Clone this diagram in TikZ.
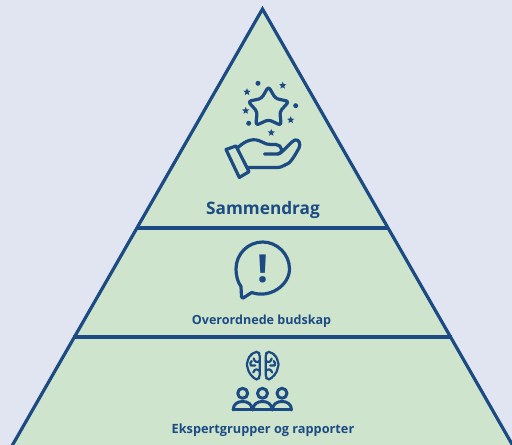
\documentclass[tikz,border=0pt]{standalone}
\usepackage{fontspec}
\setmainfont{Open Sans}
\usetikzlibrary{shapes.geometric}
\definecolor{backblue}{RGB}{225,228,241}
\definecolor{pyramidgreen}{RGB}{207,228,204}
\definecolor{lineblue}{RGB}{28,75,132}
\tikzset{
  edgeline/.style={draw=lineblue,line width=0.064cm},
  iconline/.style={draw=lineblue,line width=0.064cm,line cap=round,line join=round},
  thinicon/.style={draw=lineblue,line width=0.044cm,line cap=round,line join=round},
  levellabel/.style={text=lineblue,font=\bfseries,inner sep=0pt},
  sparkstar/.style={star,star points=5,star point ratio=2.2,fill=lineblue,inner sep=0pt,minimum size=0.15cm},
  sparkdot/.style={circle,fill=lineblue,inner sep=0pt,minimum size=0.1cm}
}
\begin{document}
\begin{tikzpicture}[x=0.02cm,y=-0.02cm]
\useasboundingbox (0,0) rectangle (512,445);
\clip (0,0) rectangle (512,445);
\fill [backblue] (0,0) rectangle (512,445);
% pyramid
\coordinate (apex) at (262.5,9);
\coordinate (baseL) at (8.5,452);
\coordinate (baseR) at (516.5,452);
\coordinate (midL) at (137,228);
\coordinate (midR) at (388,228);
\coordinate (lowL) at (73,337);
\coordinate (lowR) at (452,337);
\draw [edgeline,fill=pyramidgreen] (baseL) -- (apex) -- (baseR);
\draw [edgeline] (midL) -- (midR);
\draw [edgeline] (lowL) -- (lowR);
% star and hand
\draw [iconline,rounded corners=0.06cm] (268.5,86.5) -- (275.5,98.5) -- (289,101.4) -- (279.8,111.7) -- (281.2,125.4) -- (268.5,119.7) -- (255.8,125.4) -- (257.2,111.7) -- (248,101.4) -- (261.5,98.5) -- cycle;
\foreach \x/\y [count=\i] in {282.7/85.5,247/92,245.7/110.7,290.7/120,271.3/132.7}
  \node [sparkstar] (spark\i) at (\x,\y) {};
\foreach \x/\y [count=\i] in {258/83.3,295.7/105.7,248.7/123.3}
  \node [sparkdot] (dot\i) at (\x,\y) {};
\draw [iconline] (226,149.5) -- (236,146) -- (249,171.7) -- (239.3,177.5) -- cycle;
\draw [iconline] (238,147.5) .. controls (246,140) and (254,137.5) .. (262,142) .. controls (265,144) and (268,144.5) .. (271,144.5) -- (276,144.5) .. controls (282,144.5) and (284,154) .. (278,154);
\draw [iconline] (264.5,154) -- (278,154) .. controls (284,152) and (289,143) .. (295,140) .. controls (299,139) and (301,144) .. (299,148) .. controls (294,157) and (290,164) .. (285,165);
\draw [iconline] (248,167.5) -- (276,167.5) .. controls (280,167.5) and (282,167) .. (285,165);
% speech bubble
\draw [iconline] (251.7,292.5) .. controls (270,299) and (289.5,285) .. (289.5,269) .. controls (289.5,254) and (277,242) .. (262.7,242) .. controls (248,242) and (236,254) .. (236,269) .. controls (236,275) and (237.5,282) .. (241,286.5) -- (241.5,296.5) .. controls (242,298.5) and (243,298.5) .. (244,297.5) -- cycle;
\node [text=lineblue,font=\bfseries\fontsize{22}{22}\selectfont,inner sep=0pt] (bang) at (262.7,269) {!};
% brain and people
\foreach \s in {-1,1}
{
  \begin{scope}[shift={(262.7,0)},xscale=\s]
    \draw [thinicon,rounded corners=0.04cm] (3,354) -- (4.5,352) -- (8,351.5) -- (10,354.5) -- (13,355) -- (14,359) -- (15.8,362) -- (15.8,367) -- (14,370) -- (13.5,374) -- (10.5,375.5) -- (8,379.5) -- (4.5,379.5) -- (3,377) -- cycle;
    \draw [thinicon] (3,361) .. controls (6,363) and (8,362) .. (9,358.5);
    \draw [thinicon] (3,371) .. controls (6,368.5) and (8,369) .. (9.5,372.5);
    \draw [thinicon] (7.5,365.5) -- (12,365.5) .. controls (13,363.5) and (12,362) .. (11,361);
  \end{scope}
}
\foreach \x [count=\i] in {242.7,262.5,282}
{
  \node [circle,thinicon,line width=0.06cm,inner sep=0pt,minimum size=0.2cm] (head\i) at (\x,393.3) {};
  \draw [iconline,line width=0.06cm] ({\x-9.5},410) .. controls ({\x-9.5},404) and ({\x-5},401.5) .. (\x,401.5) .. controls ({\x+5},401.5) and ({\x+9.5},404) .. ({\x+9.5},410);
}
\draw [iconline,line width=0.06cm] (233.2,410) -- (291.5,410);
% labels
\node [levellabel,font=\bfseries\fontsize{9.8}{11}\selectfont] (top) at (263,210.5) {Sammendrag};
\node [levellabel,font=\bfseries\fontsize{7.15}{9}\selectfont] (middle) at (261.5,321.5) {Overordnede budskap};
\node [levellabel,font=\bfseries\fontsize{7.25}{9}\selectfont] (bottom) at (263,430.5) {Ekspertgrupper og rapporter};
\end{tikzpicture}
\end{document}
